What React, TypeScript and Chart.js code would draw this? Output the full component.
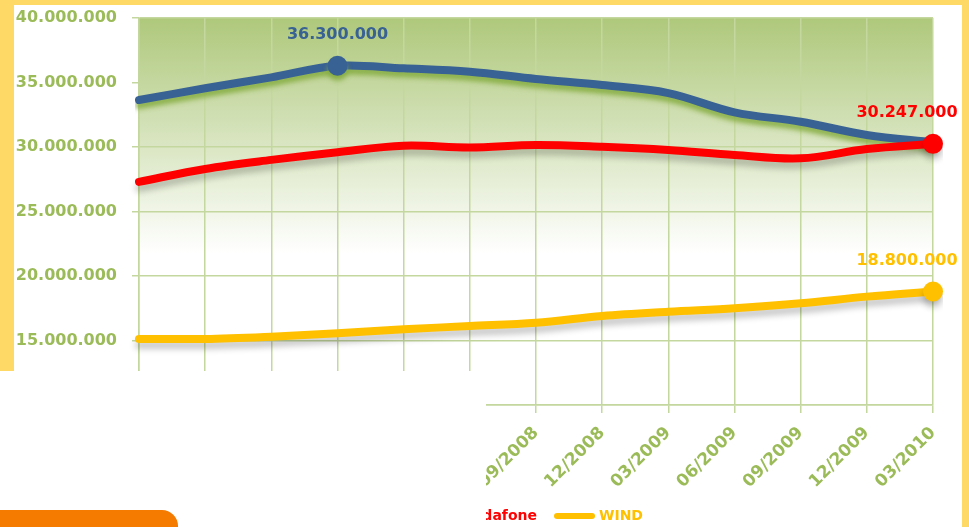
import React, { useEffect, useRef } from 'react';
import { Chart, registerables } from 'chart.js';

Chart.register(...registerables);

const categories = ['03/2007', '06/2007', '09/2007', '12/2007', '03/2008', '06/2008', '09/2008', '12/2008', '03/2009', '06/2009', '09/2009', '12/2009', '03/2010'];
const seriesNames = ['TIM', 'Vodafone', 'WIND'];
const timValues = [33640000, 34550000, 35400000, 36300000, 36100000, 35840000, 35270000, 34800000, 34180000, 32690000, 31960000, 30930000, 30360000];
const vodafoneValues = [27300000, 28300000, 29000000, 29600000, 30100000, 29970000, 30160000, 30020000, 29770000, 29380000, 29120000, 29840000, 30247000];
const windValues = [15120000, 15120000, 15300000, 15560000, 15870000, 16120000, 16380000, 16900000, 17230000, 17500000, 17880000, 18400000, 18800000];
const labelledIndex = [3, 12, 12];
const yTicks = [10000000, 15000000, 20000000, 25000000, 30000000, 35000000, 40000000];

const seriesColors = ['#386194', '#FF0000', '#FFC000'];
const axisGreen = '#9BBB59';
const gridGreen = '#C4D79E';
const FONT = '"DejaVu Sans", Verdana, sans-serif';

const fmt = (n: number) => String(Math.round(n)).replace(/\B(?=(\d{3})+(?!\d))/g, '.');

const bgPlugin = {
  id: 'bgGradient',
  beforeDraw(chart: any) {
    const { ctx, chartArea } = chart;
    const g = ctx.createLinearGradient(0, chartArea.top, 0, chartArea.top + 235);
    g.addColorStop(0, '#AEC87B');
    g.addColorStop(1, '#FFFFFF');
    ctx.save();
    ctx.fillStyle = g;
    ctx.fillRect(chartArea.left, chartArea.top, chartArea.right - chartArea.left, chartArea.bottom - chartArea.top);
    ctx.restore();
  },
};

const shadowPlugin = {
  id: 'lineShadow',
  beforeDatasetDraw(chart: any, args: any) {
    const ctx = chart.ctx;
    ctx.save();
    if (args.index === 0) {
      ctx.shadowColor = 'rgba(130,170,60,0.85)';
      ctx.shadowBlur = 5;
      ctx.shadowOffsetY = 5;
    } else {
      ctx.shadowColor = 'rgba(0,0,0,0.22)';
      ctx.shadowBlur = 6;
      ctx.shadowOffsetY = 6;
    }
  },
  afterDatasetDraw(chart: any) {
    chart.ctx.restore();
  },
};

const labelPlugin = {
  id: 'valueLabels',
  afterDatasetsDraw(chart: any) {
    const ctx = chart.ctx;
    ctx.save();
    ctx.font = `bold 16px ${FONT}`;
    ctx.textAlign = 'center';
    ctx.textBaseline = 'middle';
    chart.data.datasets.forEach((ds: any, i: number) => {
      const idx = labelledIndex[i];
      const el = chart.getDatasetMeta(i).data[idx];
      if (!el) return;
      const dx = idx === categories.length - 1 ? -26 : 0;
      ctx.fillStyle = seriesColors[i];
      ctx.fillText(fmt(ds.data[idx]), el.x + dx, el.y - 31);
    });
    ctx.restore();
  },
};

const legendPlugin = {
  id: 'customLegend',
  afterDraw(chart: any) {
    const ctx = chart.ctx;
    ctx.save();
    ctx.font = `bold 14px ${FONT}`;
    ctx.textBaseline = 'middle';
    const y = 516;
    let x = 557;
    const items: { name: string; color: string; x: number }[] = [];
    for (let i = seriesNames.length - 1; i >= 0; i--) {
      items.unshift({ name: seriesNames[i], color: seriesColors[i], x });
      if (i > 0) {
        const prevW = ctx.measureText(seriesNames[i - 1]).width;
        x = x - 20 - prevW - 7 - 35;
      }
    }
    items.forEach((it) => {
      ctx.strokeStyle = it.color;
      ctx.lineWidth = 6;
      ctx.lineCap = 'round';
      ctx.beginPath();
      ctx.moveTo(it.x, y);
      ctx.lineTo(it.x + 35, y);
      ctx.stroke();
      ctx.fillStyle = it.color;
      ctx.textAlign = 'left';
      ctx.fillText(it.name, it.x + 42, y);
    });
    ctx.restore();
  },
};

export default function App() {
  const ref = useRef<HTMLCanvasElement | null>(null);
  useEffect(() => {
    if (!ref.current) return;
    const valuesList = [timValues, vodafoneValues, windValues];
    const chart = new Chart(ref.current, {
      type: 'line',
      data: {
        labels: categories,
        datasets: valuesList.map((vals, i) => ({
          label: seriesNames[i],
          data: vals,
          borderColor: seriesColors[i],
          backgroundColor: seriesColors[i],
          borderWidth: 8,
          tension: 0.35,
          fill: false,
          order: i === 1 ? 0 : i === 0 ? 1 : 2,
          pointRadius: (c: any) => (c.dataIndex === labelledIndex[i] ? 10 : 0),
          pointBorderWidth: 0,
          pointHoverRadius: 0,
          borderCapStyle: 'round',
          borderJoinStyle: 'round',
        })),
      },
      options: {
        responsive: false,
        animation: false,
        events: [],
        layout: { padding: { left: 0, right: 36, top: 18, bottom: 0 } },
        plugins: { legend: { display: false }, tooltip: { enabled: false } },
        scales: {
          x: {
            afterFit: (s: any) => { s.height = 122; s.paddingLeft = 0; s.paddingRight = 0; },
            grid: { color: gridGreen, lineWidth: 1.5, tickLength: 8 },
            border: { color: gridGreen, width: 1.5 },
            ticks: {
              autoSkip: false,
              maxRotation: 45,
              minRotation: 45,
              padding: 10,
              color: axisGreen,
              font: { family: FONT, size: 17, weight: 'bold' },
            },
          },
          y: {
            min: 10000000,
            max: 40000000,
            afterFit: (s: any) => { s.width = 139; s.paddingTop = 0; s.paddingBottom = 0; },
            afterBuildTicks: (s: any) => { s.ticks = yTicks.map((v) => ({ value: v })); },
            grid: { color: gridGreen, lineWidth: 1.5, tickLength: 7 },
            border: { color: gridGreen, width: 1.5 },
            ticks: {
              padding: 15,
              color: axisGreen,
              font: { family: FONT, size: 16, weight: 'bold' },
              callback: (v: any) => fmt(Number(v)),
            },
          },
        },
      },
      plugins: [bgPlugin, shadowPlugin, labelPlugin, legendPlugin],
    } as any);
    return () => chart.destroy();
  }, []);

  return (
    <div style={{ position: 'absolute', left: 0, top: 0, width: 969, height: 527, background: '#FFD966', overflow: 'hidden' }}>
      <div style={{ position: 'absolute', left: 14, top: 5, width: 948, height: 522, background: '#FFFFFF' }} />
      <div style={{ position: 'absolute', left: 0, top: 371, width: 962, height: 156, background: '#FFFFFF' }} />
      <canvas ref={ref} width={969} height={527} style={{ position: 'absolute', left: 0, top: 0, width: 969, height: 527 }} />
      <div style={{ position: 'absolute', left: 0, top: 371, width: 486, height: 156, background: '#FFFFFF' }} />
      <div style={{ position: 'absolute', left: 0, top: 510, width: 178, height: 30, background: '#F57A00', borderTopRightRadius: 16 }} />
    </div>
  );
}
